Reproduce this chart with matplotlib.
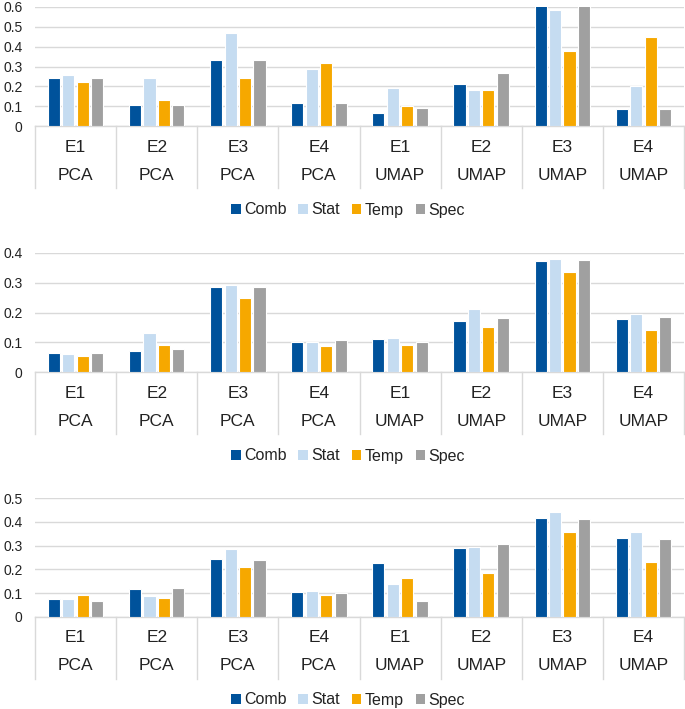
import numpy as np
import matplotlib
matplotlib.use("Agg")
import matplotlib.pyplot as plt
from matplotlib.transforms import blended_transform_factory
from matplotlib.patches import Patch

plt.rcParams['font.family'] = ['Liberation Sans', 'DejaVu Sans']

# categories
experiments = ["E1", "E2", "E3", "E4", "E1", "E2", "E3", "E4"]
methods = ["PCA", "PCA", "PCA", "PCA", "UMAP", "UMAP", "UMAP", "UMAP"]
series = ["Comb", "Stat", "Temp", "Spec"]
colors = ["#00529B", "#C5DCF1", "#F6A800", "#A0A0A0"]

# panel 1 (top)
top_comb = [0.244, 0.106, 0.331, 0.118, 0.067, 0.213, 0.61, 0.087]
top_stat = [0.255, 0.244, 0.469, 0.287, 0.192, 0.183, 0.587, 0.200]
top_temp = [0.222, 0.129, 0.240, 0.319, 0.103, 0.183, 0.376, 0.449]
top_spec = [0.244, 0.106, 0.331, 0.118, 0.091, 0.267, 0.61, 0.087]

# panel 2 (middle)
mid_comb = [0.064, 0.072, 0.285, 0.100, 0.110, 0.172, 0.373, 0.177]
mid_stat = [0.062, 0.131, 0.291, 0.100, 0.113, 0.211, 0.380, 0.195]
mid_temp = [0.055, 0.090, 0.250, 0.086, 0.090, 0.152, 0.337, 0.142]
mid_spec = [0.064, 0.076, 0.285, 0.106, 0.102, 0.180, 0.375, 0.185]

# panel 3 (bottom)
bot_comb = [0.077, 0.118, 0.244, 0.106, 0.225, 0.292, 0.417, 0.334]
bot_stat = [0.076, 0.089, 0.286, 0.108, 0.139, 0.296, 0.442, 0.359]
bot_temp = [0.093, 0.080, 0.211, 0.093, 0.163, 0.186, 0.356, 0.231]
bot_spec = [0.066, 0.123, 0.241, 0.099, 0.066, 0.308, 0.413, 0.327]

panels = [
    ([top_comb, top_stat, top_temp, top_spec], 0.6, 126),
    ([mid_comb, mid_stat, mid_temp, mid_spec], 0.4, 372),
    ([bot_comb, bot_stat, bot_temp, bot_spec], 0.5, 617),
]
legend_y = [210, 456, 700]

W, H = 685, 709
fig = plt.figure(figsize=(W / 100, H / 100), dpi=100)
grid_c = "#D9D9D9"
ax_h = 119

for (vals, ymax, y0), ly in zip(panels, legend_y):
    ax = fig.add_axes([35 / W, 1 - y0 / H, 649 / W, ax_h / H])
    x = np.arange(len(experiments)) + 0.5
    step = 0.178
    for i, v in enumerate(vals):
        ax.bar(x + (i - 1.5) * step, v, width=0.15, color=colors[i],
               edgecolor="white", linewidth=0.8, zorder=3)
    ax.set_xlim(0, len(experiments))
    ax.set_ylim(0, ymax)
    ticks = np.arange(0, ymax + 0.001, 0.1)
    ax.set_yticks(ticks)
    ax.set_yticklabels(["%g" % round(t, 1) for t in ticks])
    ax.tick_params(axis="y", length=0, pad=9, labelsize=10, colors="#222222")
    ax.set_xticks([])
    ax.grid(axis="y", color=grid_c, linewidth=1, zorder=0)
    for s in ["top", "right", "left"]:
        ax.spines[s].set_visible(False)
    ax.spines["bottom"].set_color(grid_c)
    ax.spines["bottom"].set_linewidth(1)

    # two-level category axis
    trans = blended_transform_factory(ax.transData, ax.transAxes)
    depth = -62 / ax_h
    for b in range(len(experiments) + 1):
        ax.plot([b, b], [0, depth], color=grid_c, linewidth=1,
                transform=trans, clip_on=False)
    for xi, e, m in zip(x, experiments, methods):
        ax.text(xi, -21 / ax_h, e, transform=trans, ha="center", va="center",
                fontsize=12.5, color="#222222")
        ax.text(xi, -49 / ax_h, m, transform=trans, ha="center", va="center",
                fontsize=12.5, color="#222222")

    handles = [Patch(facecolor=c, edgecolor="none") for c in colors]
    fig.legend(handles, series, loc="center", bbox_to_anchor=(348 / W, 1 - ly / H),
               ncol=4, frameon=False, fontsize=11.5, handlelength=0.6,
               handleheight=0.6, handletextpad=0.2, columnspacing=0.75,
               labelcolor="#222222")

fig.savefig("out.png", dpi=100)
